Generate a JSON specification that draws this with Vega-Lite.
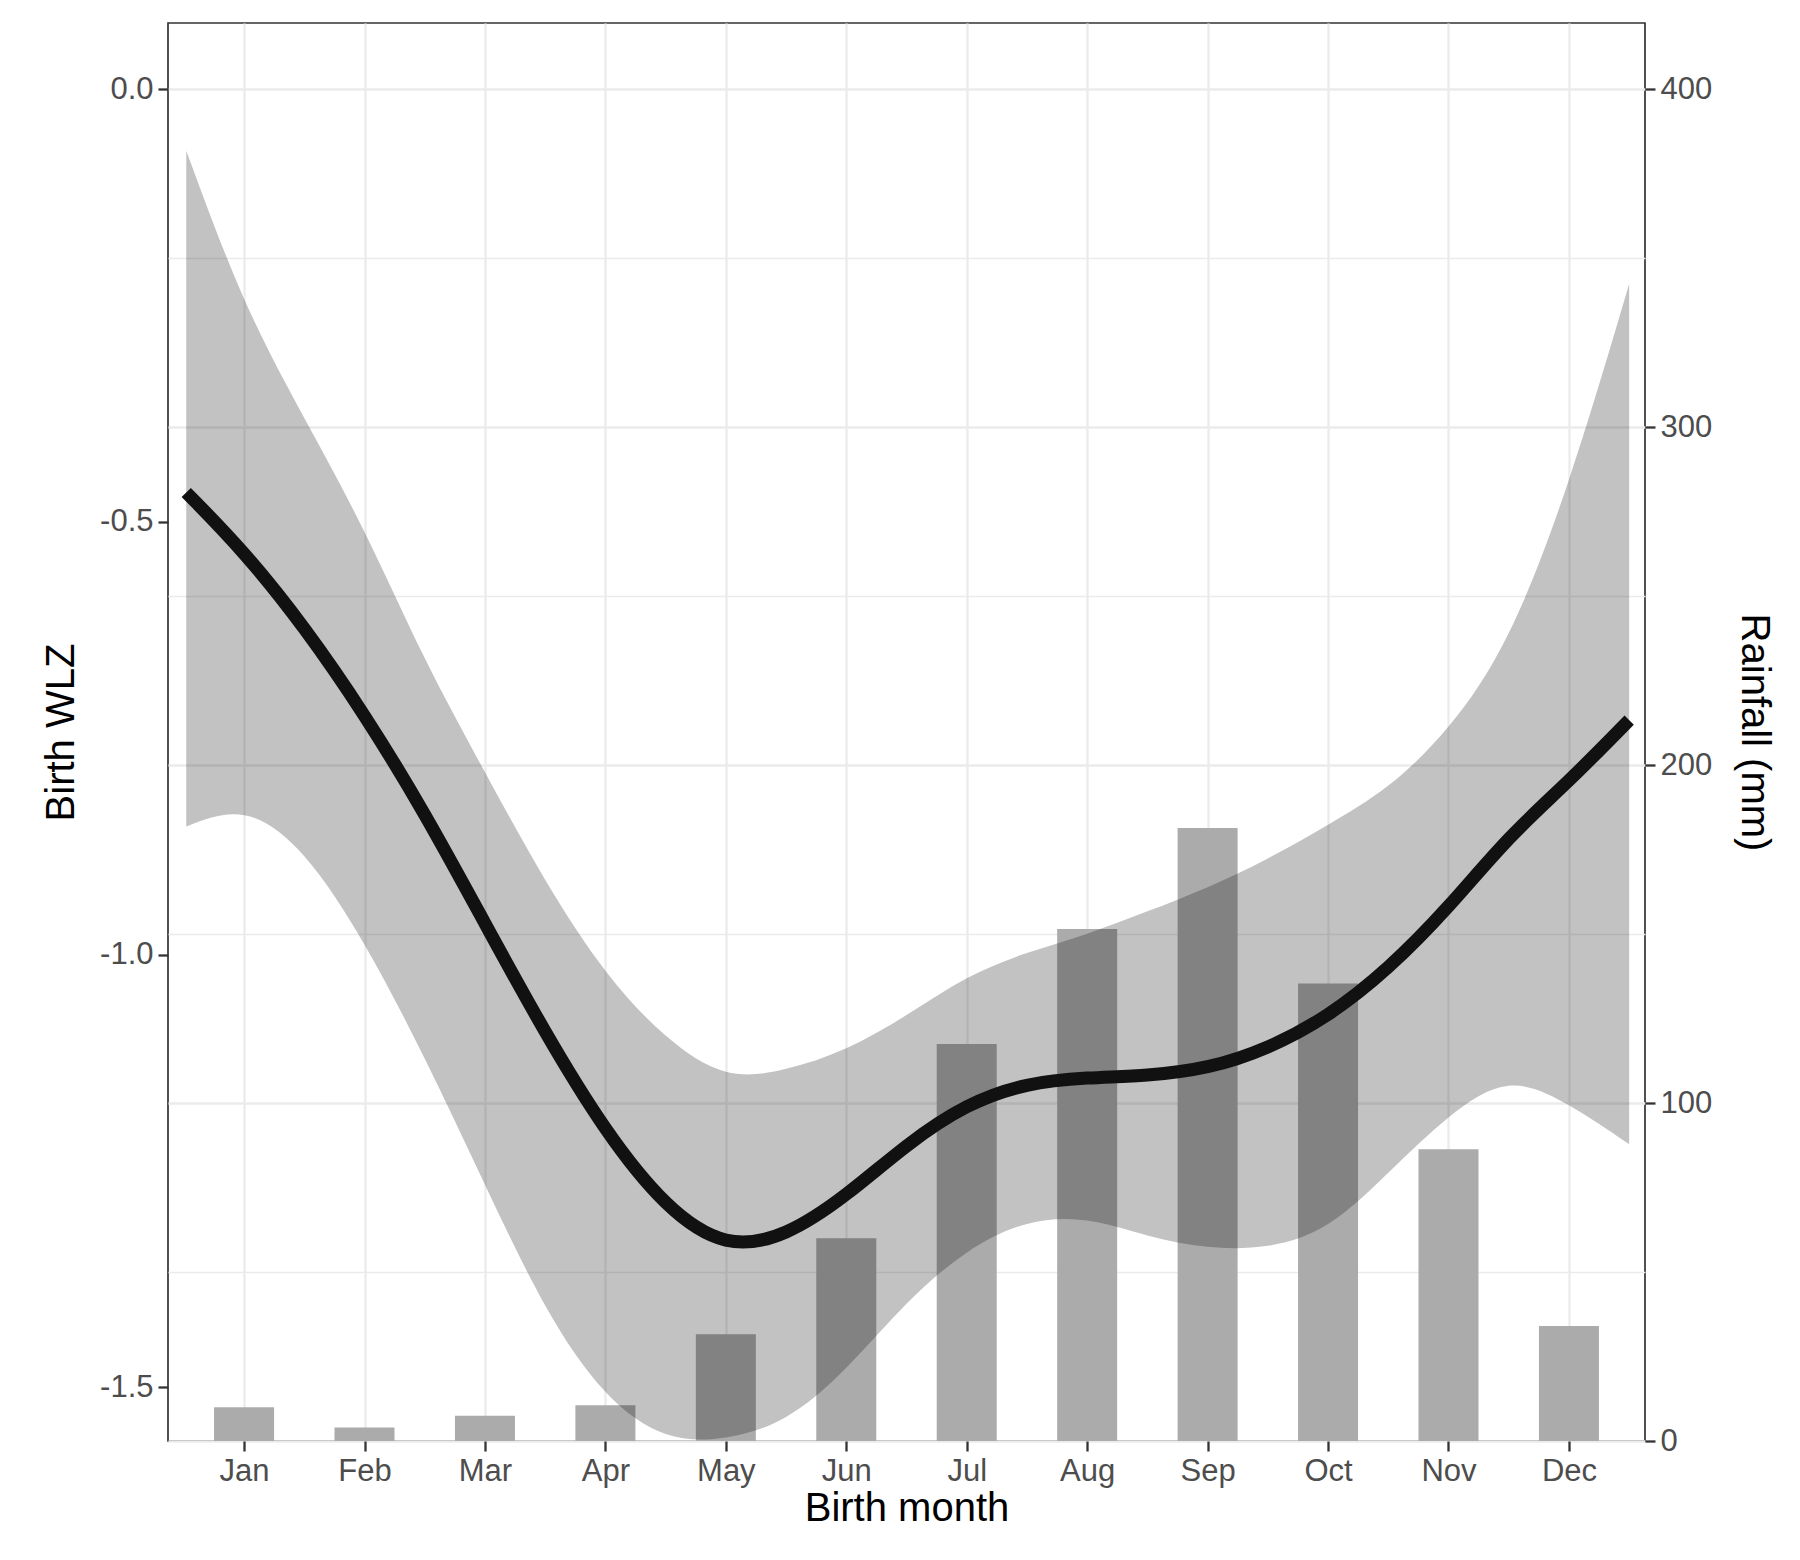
{
  "$schema": "https://vega.github.io/schema/vega-lite/v6.json",
  "autosize": "none",
  "width": 1477,
  "height": 1418,
  "padding": {"left": 168, "top": 23, "right": 155, "bottom": 119},
  "background": "white",
  "config": {
    "font": "Liberation Sans",
    "view": {"stroke": "#333333", "strokeWidth": 1.7},
    "axis": {
      "labelFontSize": 31, "labelColor": "#4d4d4d", "titleFontSize": 40,
      "titleColor": "#000000", "titleFontWeight": "normal", "tickColor": "#333333",
      "tickSize": 10, "tickWidth": 2.3, "domain": false, "gridColor": "#ebebeb", "labelPadding": 5
    }
  },
  "datasets": {
    "rain": [
      {"month": 1, "rain": 10}, {"month": 2, "rain": 4}, {"month": 3, "rain": 7.5},
      {"month": 4, "rain": 10.6}, {"month": 5, "rain": 31.6}, {"month": 6, "rain": 60},
      {"month": 7, "rain": 117.5}, {"month": 8, "rain": 151.5}, {"month": 9, "rain": 181.4},
      {"month": 10, "rain": 135.4}, {"month": 11, "rain": 86.3}, {"month": 12, "rain": 34}
    ],
    "fit": [
      {"x": 0.52, "fit": -0.466, "lo": -0.852, "hi": -0.071},
      {"x": 1.0, "fit": -0.534, "lo": -0.826, "hi": -0.252},
      {"x": 1.5, "fit": -0.621, "lo": -0.877, "hi": -0.380},
      {"x": 2.0, "fit": -0.722, "lo": -0.984, "hi": -0.507},
      {"x": 2.5, "fit": -0.836, "lo": -1.118, "hi": -0.662},
      {"x": 3.0, "fit": -0.964, "lo": -1.266, "hi": -0.789},
      {"x": 3.5, "fit": -1.091, "lo": -1.413, "hi": -0.917},
      {"x": 4.0, "fit": -1.205, "lo": -1.514, "hi": -1.024},
      {"x": 4.5, "fit": -1.293, "lo": -1.562, "hi": -1.098},
      {"x": 5.0, "fit": -1.340, "lo": -1.561, "hi": -1.145},
      {"x": 5.5, "fit": -1.326, "lo": -1.541, "hi": -1.134},
      {"x": 6.0, "fit": -1.279, "lo": -1.481, "hi": -1.111},
      {"x": 6.5, "fit": -1.219, "lo": -1.400, "hi": -1.071},
      {"x": 7.0, "fit": -1.172, "lo": -1.340, "hi": -1.024},
      {"x": 7.5, "fit": -1.148, "lo": -1.306, "hi": -0.997},
      {"x": 8.0, "fit": -1.142, "lo": -1.303, "hi": -0.977},
      {"x": 8.5, "fit": -1.140, "lo": -1.326, "hi": -0.950},
      {"x": 9.0, "fit": -1.132, "lo": -1.340, "hi": -0.923},
      {"x": 9.5, "fit": -1.109, "lo": -1.340, "hi": -0.890},
      {"x": 10.0, "fit": -1.072, "lo": -1.319, "hi": -0.850},
      {"x": 10.5, "fit": -1.017, "lo": -1.252, "hi": -0.809},
      {"x": 11.0, "fit": -0.946, "lo": -1.185, "hi": -0.742},
      {"x": 11.5, "fit": -0.863, "lo": -1.138, "hi": -0.642},
      {"x": 12.0, "fit": -0.800, "lo": -1.172, "hi": -0.460},
      {"x": 12.5, "fit": -0.729, "lo": -1.219, "hi": -0.225}
    ]
  },
  "layer": [
    {
      "data": {"name": "rain"},
      "mark": {"type": "bar", "color": "#ababab", "size": 60},
      "encoding": {
        "x": {"field": "month", "type": "quantitative",
          "scale": {"domain": [0.41, 12.59], "nice": false, "zero": false},
          "axis": {"values": [1,2,3,4,5,6,7,8,9,10,11,12], "title": "Birth month", "grid": true, "gridWidth": 2.3,
            "labelExpr": "['Jan','Feb','Mar','Apr','May','Jun','Jul','Aug','Sep','Oct','Nov','Dec'][datum.value-1]",
            "titlePadding": 2}},
        "y": {"field": "rain", "type": "quantitative",
          "scale": {"domain": [0, 419.6], "nice": false},
          "axis": {"orient": "right", "title": "Rainfall (mm)", "titleAngle": 90, "titlePadding": 22,
            "values": [0,50,100,150,200,250,300,350,400], "grid": true,
            "gridWidth": {"condition": {"test": "datum.value % 100 == 0", "value": 2.3}, "value": 1.3},
            "tickOpacity": {"condition": {"test": "datum.value % 100 == 0", "value": 1}, "value": 0},
            "labelExpr": "datum.value % 100 == 0 ? datum.label : ''"}}
      }
    },
    {
      "data": {"name": "fit"},
      "layer": [
        {
          "mark": {"type": "area", "color": "#000000", "opacity": 0.24, "clip": true, "interpolate": "basis"},
          "encoding": {
            "x": {"field": "x", "type": "quantitative"},
            "y": {"field": "lo", "type": "quantitative", "scale": {"domain": [-1.562, 0.0765], "nice": false, "zero": false},
              "axis": {"orient": "left", "title": "Birth WLZ", "values": [-1.5, -1, -0.5, 0], "format": ".1f", "grid": false, "titlePadding": 18,
                "labelExpr": "replace(datum.label, '\u2212', '-')"}},
            "y2": {"field": "hi"}
          }
        },
        {
          "mark": {"type": "line", "color": "#111111", "strokeWidth": 13, "interpolate": "basis"},
          "encoding": {
            "x": {"field": "x", "type": "quantitative"},
            "y": {"field": "fit", "type": "quantitative"}
          }
        }
      ]
    }
  ],
  "resolve": {"scale": {"y": "independent"}}
}
